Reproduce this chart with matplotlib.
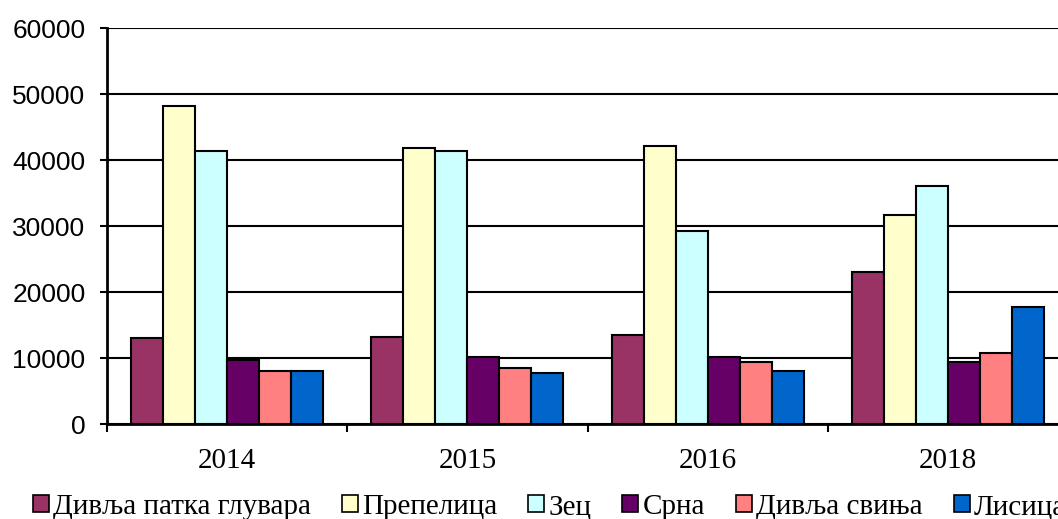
import numpy as np
import matplotlib.pyplot as plt
from matplotlib.patches import Patch

years = ['2014', '2015', '2016', '2018']
species = ['Дивља патка глувара', 'Препелица', 'Зец', 'Срна', 'Дивља свиња', 'Лисица']
colors = ['#993366', '#FFFFCC', '#CCFFFF', '#660066', '#FF8080', '#0066CC']

patka = [13000, 13200, 13500, 23100]
prepelica = [48200, 41800, 42100, 31600]
zec = [41300, 41400, 29200, 36100]
srna = [9700, 10200, 10200, 9400]
svinja = [8000, 8500, 9400, 10800]
lisica = [8000, 7700, 8000, 17700]

series = [patka, prepelica, zec, srna, svinja, lisica]


def main():
    W, H = 1058, 519
    fig = plt.figure(figsize=(W / 100, H / 100), dpi=100)
    ax = fig.add_axes([107 / W, 95 / H, (1068 - 107) / W, (424 - 28) / H])

    x = np.arange(len(years))
    bw = 0.8 / len(series)
    for i, (vals, c) in enumerate(zip(series, colors)):
        ax.bar(x - 0.4 + bw * (i + 0.5), vals, width=bw, color=c,
               edgecolor='black', linewidth=1.5, zorder=3)

    ax.set_ylim(0, 60000)
    ax.set_xlim(-0.5, len(years) - 0.5)
    ax.set_yticks(np.arange(0, 60001, 10000))
    ax.yaxis.grid(True, color='black', linewidth=1.5, zorder=0)
    ax.set_axisbelow(True)

    ax.set_xticks(np.arange(len(years) + 1) - 0.5)
    ax.set_xticklabels([])
    ax.set_xticks(x, minor=True)
    ax.set_xticklabels(years, minor=True, family='Liberation Serif', fontsize=21)
    ax.tick_params(axis='x', which='major', direction='out', length=6, width=1.5)
    ax.tick_params(axis='x', which='minor', length=0, pad=17)
    ax.tick_params(axis='y', direction='out', length=5, width=1.5, pad=10.5)
    for lab in ax.get_yticklabels():
        lab.set_family('Liberation Sans')
        lab.set_fontsize(19)

    for s in ['top', 'right']:
        ax.spines[s].set_visible(False)
    for s in ['left', 'bottom']:
        ax.spines[s].set_linewidth(2)

    handles = [Patch(facecolor=c, edgecolor='black', linewidth=1.2) for c in colors]
    fig.legend(handles, species, loc='center left', bbox_to_anchor=(33 / W, 1 - 507 / H),
               ncol=6, frameon=False, prop={'family': 'Liberation Serif', 'size': 21},
               handlelength=0.55, handleheight=0.55, handletextpad=0.15,
               columnspacing=1.05, borderpad=0, borderaxespad=0)

    fig.savefig('out.png', dpi=100)


if __name__ == "__main__":
    main()
